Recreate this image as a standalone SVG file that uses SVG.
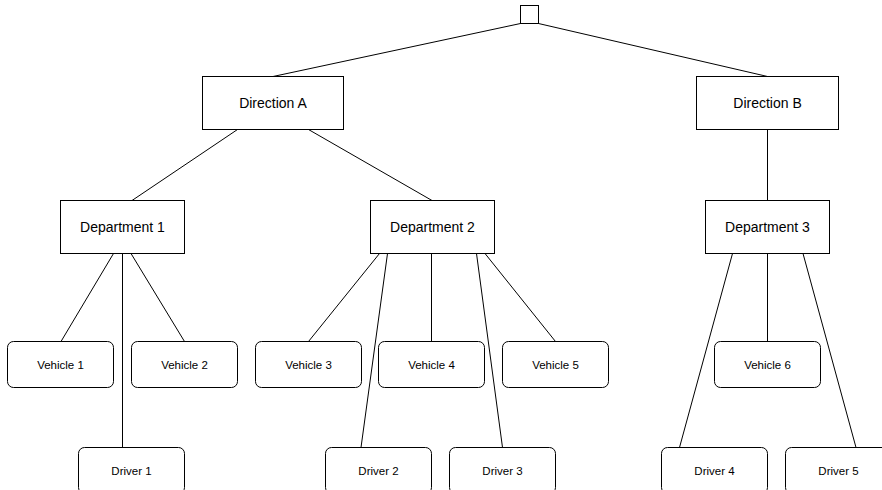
<svg xmlns="http://www.w3.org/2000/svg" width="882" height="490" viewBox="0 0 882 490">
<style>
.box{fill:#fff;stroke:#000;stroke-width:1}
.big{font-family:"Liberation Sans",Arial,sans-serif;font-size:14px;fill:#000;text-anchor:middle}
.small{font-family:"Liberation Sans",Arial,sans-serif;font-size:11.5px;fill:#000;text-anchor:middle}
.conn line{stroke:#000;stroke-width:1}
</style>
<rect width="882" height="490" fill="#fff"/>
<g class="conn" id="connectors">
<line x1="520.5" y1="23.5" x2="273" y2="76.5"/>
<line x1="538.5" y1="23.5" x2="767.5" y2="76.5"/>
<line x1="237.5" y1="129.5" x2="132" y2="200.5"/>
<line x1="308.5" y1="129.5" x2="432" y2="200.5"/>
<line x1="767.5" y1="129.5" x2="767.5" y2="200.5"/>
<line x1="113.5" y1="253.5" x2="61" y2="341.5"/>
<line x1="122.5" y1="253.5" x2="122.5" y2="447.5"/>
<line x1="131" y1="253.5" x2="184.5" y2="341.5"/>
<line x1="379.5" y1="253.5" x2="308.5" y2="341.5"/>
<line x1="387.5" y1="253.5" x2="361" y2="447.5"/>
<line x1="431.5" y1="253.5" x2="431.5" y2="341.5"/>
<line x1="476.5" y1="253.5" x2="502.5" y2="447.5"/>
<line x1="485" y1="253.5" x2="555.5" y2="341.5"/>
<line x1="732.5" y1="253.5" x2="679.5" y2="447.5"/>
<line x1="767.5" y1="253.5" x2="767.5" y2="341.5"/>
<line x1="803" y1="253.5" x2="856" y2="447.5"/>
</g>
<g id="root"><rect class="box" x="520.5" y="5.5" width="18" height="18"/></g>
<g id="dirA"><rect class="box" x="202.5" y="76.5" width="141" height="53"/><text class="big" x="273" y="108">Direction A</text></g>
<g id="dirB"><rect class="box" x="696.5" y="76.5" width="142" height="53"/><text class="big" x="767.5" y="108">Direction B</text></g>
<g id="dep1"><rect class="box" x="60.5" y="200.5" width="124" height="53"/><text class="big" x="122.5" y="232">Department 1</text></g>
<g id="dep2"><rect class="box" x="370.5" y="200.5" width="124" height="53"/><text class="big" x="432.5" y="232">Department 2</text></g>
<g id="dep3"><rect class="box" x="705.5" y="200.5" width="124" height="53"/><text class="big" x="767.5" y="232">Department 3</text></g>
<g id="veh1"><rect class="box" x="7.5" y="341.5" width="106" height="46" rx="6"/><text class="small" x="60.5" y="369">Vehicle 1</text></g>
<g id="veh2"><rect class="box" x="131.5" y="341.5" width="106" height="46" rx="6"/><text class="small" x="184.5" y="369">Vehicle 2</text></g>
<g id="veh3"><rect class="box" x="255.5" y="341.5" width="106" height="46" rx="6"/><text class="small" x="308.5" y="369">Vehicle 3</text></g>
<g id="veh4"><rect class="box" x="378.5" y="341.5" width="106" height="46" rx="6"/><text class="small" x="431.5" y="369">Vehicle 4</text></g>
<g id="veh5"><rect class="box" x="502.5" y="341.5" width="106" height="46" rx="6"/><text class="small" x="555.5" y="369">Vehicle 5</text></g>
<g id="veh6"><rect class="box" x="714.5" y="341.5" width="106" height="46" rx="6"/><text class="small" x="767.5" y="369">Vehicle 6</text></g>
<g id="drv1"><rect class="box" x="78.5" y="447.5" width="106" height="46" rx="6"/><text class="small" x="131.5" y="475">Driver 1</text></g>
<g id="drv2"><rect class="box" x="325.5" y="447.5" width="106" height="46" rx="6"/><text class="small" x="378.5" y="475">Driver 2</text></g>
<g id="drv3"><rect class="box" x="449.5" y="447.5" width="106" height="46" rx="6"/><text class="small" x="502.5" y="475">Driver 3</text></g>
<g id="drv4"><rect class="box" x="661.5" y="447.5" width="106" height="46" rx="6"/><text class="small" x="714.5" y="475">Driver 4</text></g>
<g id="drv5"><rect class="box" x="785.5" y="447.5" width="106" height="46" rx="6"/><text class="small" x="838.5" y="475">Driver 5</text></g>
</svg>
